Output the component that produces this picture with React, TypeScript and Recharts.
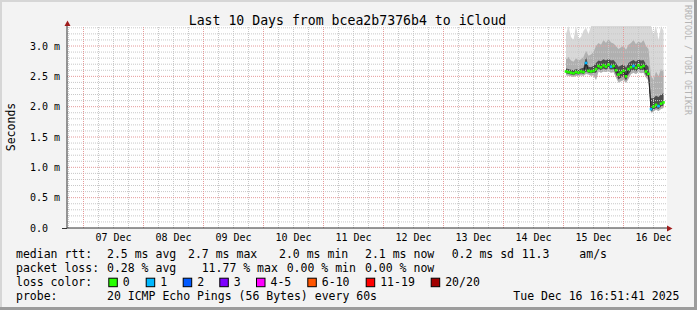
import React from 'react';
import { ComposedChart, Area, Line, XAxis, YAxis, ReferenceLine, CartesianGrid } from 'recharts';

// hours since 07 Dec 00:00
const hours = [193,194,195,196,197,198,199,200,201,202,203,204,205,206,207,208,209,210,211,212,213,214,215,216,217,218,219,220,221,222,223,224,225,226,227,228,229,230,231,232];
const median = [2.58,2.57,2.56,2.55,2.57,2.56,2.58,2.57,2.72,2.59,2.58,2.59,2.62,2.67,2.65,2.68,2.66,2.69,2.66,2.67,2.60,2.53,2.56,2.59,2.50,2.62,2.65,2.67,2.64,2.68,2.65,2.67,2.58,2.54,1.96,2.00,2.03,2.01,2.05,2.07];
const smokeMin = [2.52,2.51,2.50,2.49,2.51,2.50,2.52,2.51,2.54,2.53,2.51,2.52,2.44,2.58,2.56,2.58,2.57,2.59,2.56,2.57,2.48,2.40,2.42,2.44,2.39,2.46,2.54,2.56,2.54,2.57,2.55,2.56,2.48,2.43,1.89,1.92,1.95,1.93,1.96,1.98];
const smokeP25 = [2.55,2.54,2.53,2.52,2.54,2.53,2.55,2.54,2.58,2.56,2.55,2.56,2.56,2.62,2.60,2.63,2.61,2.64,2.61,2.62,2.53,2.45,2.48,2.50,2.43,2.53,2.59,2.61,2.58,2.62,2.60,2.61,2.52,2.48,1.92,1.95,1.98,1.96,2.00,2.02];
const smokeP75 = [2.63,2.62,2.61,2.60,2.62,2.61,2.63,2.64,2.82,2.66,2.65,2.67,2.72,2.76,2.75,2.78,2.76,2.79,2.76,2.77,2.72,2.66,2.68,2.70,2.64,2.72,2.75,2.77,2.74,2.78,2.76,2.77,2.70,2.66,2.14,2.14,2.18,2.16,2.20,2.22];
const smokeP90 = [2.78,2.82,2.76,2.74,2.80,2.76,2.78,2.82,2.92,2.84,2.86,2.90,3.00,3.05,3.02,3.10,3.05,3.12,3.06,3.04,3.00,2.95,2.98,3.00,2.94,3.02,3.05,3.10,3.03,3.08,3.05,3.10,3.00,2.95,2.50,2.45,2.58,2.50,2.62,2.58];
const smokeMax = [3.20,3.33,3.15,3.10,3.33,3.12,3.15,3.25,3.30,3.20,3.33,3.33,3.33,3.33,3.33,3.33,3.33,3.33,3.33,3.33,3.33,3.33,3.33,3.33,3.33,3.33,3.33,3.33,3.33,3.33,3.33,3.33,3.33,3.33,3.33,3.20,3.33,3.10,3.33,3.25];
const lossCount = [0,0,0,0,0,0,0,0,1,0,0,0,0,0,0,0,0,0,1,0,0,0,0,0,0,0,0,1,0,0,0,0,0,0,1,0,0,1,0,0];

const dayTicks = [12,36,60,84,108,132,156,180,204,228];
const dayLabels = ['07 Dec','08 Dec','09 Dec','10 Dec','11 Dec','12 Dec','13 Dec','14 Dec','15 Dec','16 Dec'];
const yTicks = [0,0.5,1.0,1.5,2.0,2.5,3.0];

const lossColors = ['#26ff00','#00b8ff','#0059ff','#7e00ff','#ff00ff','#ff5500','#ff0000','#a10000'];
const lossLabels = ['0','1','2','3','4-5','6-10','11-19','20/20'];

const medianLegend = ['median rtt:','2.5 ms avg','2.7 ms max','2.0 ms min','2.1 ms now','0.2 ms sd','11.3','am/s'];
const lossLegend = ['packet loss:','0.28 % avg','11.77 % max','0.00 % min','0.00 % now'];
const probeLegend = ['probe:','20 ICMP Echo Pings (56 Bytes) every 60s','Tue Dec 16 16:51:41 2025'];

const table = hours.map((h, i) => ({
  h,
  median: median[i],
  loss: lossCount[i],
  outer: [smokeMin[i], smokeMax[i]],
  mid: [smokeMin[i], smokeP90[i]],
  inner: [smokeP25[i], smokeP75[i]],
}));

const minorX: number[] = [];
for (let h = -6; h <= 233; h += 6) if (h % 24 !== 0) minorX.push(h);
const majorX: number[] = [];
for (let h = 0; h <= 233; h += 24) majorX.push(h);
const minorY: number[] = [];
for (let k = 1; k <= 33; k++) if (k % 5 !== 0) minorY.push(k / 10);
const majorY = yTicks.filter((v) => v > 0);

const FONT = '"DejaVu Sans Mono", monospace';

const YTick = (props: any) => {
  const { x, y, payload } = props;
  const v = payload.value as number;
  return (
    <g>
      <text x={x - 19} y={y + 3.5} textAnchor="end" fontFamily={FONT} fontSize={10} fill="#000">{v.toFixed(1)}</text>
      {v > 0 && <text x={x - 13} y={y + 3.5} textAnchor="start" fontFamily={FONT} fontSize={10} fill="#000">m</text>}
    </g>
  );
};

const XTick = (props: any) => {
  const { x, y, index } = props;
  return (
    <text x={x} y={y + 8} textAnchor="middle" fontFamily={FONT} fontSize={10} fill="#000">{dayLabels[index] ?? ''}</text>
  );
};

const LossDot = (props: any) => {
  const { cx, cy, payload, index } = props;
  if (cx == null || cy == null) return <g key={`d${index}`} />;
  return <rect key={`d${index}`} x={cx - 1.3} y={cy - 1.3} width={2.6} height={2.6} fill={lossColors[payload.loss]} />;
};

const legendX1 = [16, 107, 188, 279, 365, 451.7, 521.7, 579.3];
const legendX2 = [16, 107, 201.7, 286.7, 365];
const swatchX = [108.3, 145.7, 182.7, 219.3, 256, 307.3, 365.7, 430.7];
const probeX = [16, 107, 513.3];

export default function App() {
  const textProps = { fontFamily: FONT, fontSize: 11.5, fill: '#000' };
  return (
    <div style={{ position: 'absolute', left: 0, top: 0, width: 697, height: 310, background: '#f3f3f3', overflow: 'hidden' }}>
      <div style={{ position: 'absolute', left: 0, top: 0 }}>
        <ComposedChart width={697} height={310} data={table} margin={{ top: 26, right: 30, bottom: 62, left: 17 }}>
          <CartesianGrid fill="#ffffff" horizontal={false} vertical={false} />
          <XAxis
            dataKey="h"
            type="number"
            domain={[-6.6, 233.4]}
            allowDataOverflow
            ticks={dayTicks}
            tick={<XTick />}
            tickLine={false}
            tickSize={3}
            tickMargin={2}
            height={20}
            axisLine={{ stroke: '#303030' }}
            interval={0}
          />
          <YAxis
            type="number"
            domain={[0, 3.33]}
            allowDataOverflow
            ticks={yTicks}
            tick={<YTick />}
            tickLine={false}
            tickSize={0}
            tickMargin={0}
            width={50}
            axisLine={{ stroke: '#303030' }}
            interval={0}
          />
          <Area dataKey="outer" type="linear" stroke="none" fill="#d8d8d8" fillOpacity={1} isAnimationActive={false} dot={false} activeDot={false} />
          <Area dataKey="mid" type="linear" stroke="none" fill="#b0b0b0" fillOpacity={1} isAnimationActive={false} dot={false} activeDot={false} />
          <Area dataKey="inner" type="linear" stroke="none" fill="#4c4c4c" fillOpacity={1} isAnimationActive={false} dot={false} activeDot={false} />
          {minorY.map((v) => (
            <ReferenceLine key={`my${v}`} y={v} stroke="#c8c8c8" strokeDasharray="1 1" strokeWidth={1} />
          ))}
          {minorX.map((v) => (
            <ReferenceLine key={`mx${v}`} x={v} stroke="#c8c8c8" strokeDasharray="1 1" strokeWidth={1} />
          ))}
          {majorY.map((v) => (
            <ReferenceLine key={`My${v}`} y={v} stroke="#e59a9a" strokeDasharray="1 1" strokeWidth={1} />
          ))}
          {majorX.map((v) => (
            <ReferenceLine key={`Mx${v}`} x={v} stroke="#e59a9a" strokeDasharray="1 1" strokeWidth={1} />
          ))}
          <Line dataKey="median" type="linear" stroke="#202020" strokeWidth={1} dot={<LossDot />} activeDot={false} isAnimationActive={false} />
        </ComposedChart>
      </div>
      <svg width={697} height={310} style={{ position: 'absolute', left: 0, top: 0, pointerEvents: 'none' }}>
        <rect x={0} y={0} width={697} height={2} fill="#d6d6d6" />
        <rect x={0} y={0} width={2} height={310} fill="#d6d6d6" />
        <rect x={0} y={307} width={697} height={3} fill="#9c9c9c" />
        <rect x={694} y={0} width={3} height={310} fill="#9c9c9c" />
        <line x1={62} y1={228.5} x2={67} y2={228.5} stroke="#303030" strokeWidth={1} />
        <line x1={67.5} y1={26} x2={67.5} y2={22} stroke="#303030" strokeWidth={1} />
        <polygon points="64.5,26 70.5,26 67.5,20.5" fill="#a01c1c" />
        <polygon points="667,225.5 667,231.5 672.5,228.5" fill="#a01c1c" />
        <text x={347.5} y={24.5} textAnchor="middle" fontFamily={FONT} fontSize={13.2} fill="#000">Last 10 Days from bcea2b7376b4 to iCloud</text>
        <text x={15} y={127} transform="rotate(-90 15 127)" textAnchor="middle" {...textProps}>Seconds</text>
        <text x={684.5} y={5} transform="rotate(90 684.5 5)" textAnchor="start" fontFamily={FONT} fontSize={8.3} fill="#b4b4b4">RRDTOOL / TOBI OETIKER</text>
        {medianLegend.map((t, i) => (
          <text key={`l1${i}`} x={legendX1[i]} y={258.3} {...textProps}>{t}</text>
        ))}
        {lossLegend.map((t, i) => (
          <text key={`l2${i}`} x={legendX2[i]} y={272.3} {...textProps}>{t}</text>
        ))}
        <text x={16} y={286.3} {...textProps}>loss color:</text>
        {lossLabels.map((t, i) => (
          <g key={`sw${i}`}>
            <rect x={swatchX[i] + 0.5} y={278.2} width={8.5} height={8.5} fill={lossColors[i]} stroke="#000" strokeWidth={1} />
            <text x={swatchX[i] + 14.5} y={286.3} {...textProps}>{t}</text>
          </g>
        ))}
        {probeLegend.map((t, i) => (
          <text key={`l4${i}`} x={probeX[i]} y={300} {...textProps}>{t}</text>
        ))}
      </svg>
    </div>
  );
}
